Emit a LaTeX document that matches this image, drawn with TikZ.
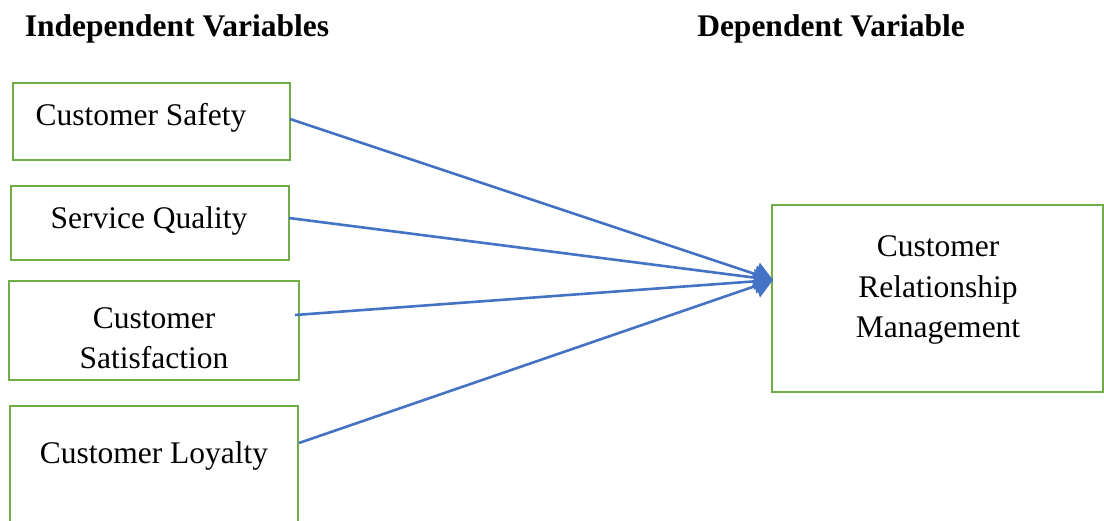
\documentclass[tikz,border=0pt]{standalone}
\usepackage{fontspec}
\setmainfont{Liberation Serif}
\usetikzlibrary{arrows.meta}
\definecolor{boxgreen}{HTML}{70AD47}
\definecolor{arrowblue}{HTML}{4472C4}
\tikzset{
  varbox/.style={draw=boxgreen, line width=2.8pt, fill=none},
  lbl/.style={inner sep=0pt, font=\fontsize{31.5}{40.5}\selectfont},
  head/.style={inner sep=0pt, font=\fontsize{31.5}{40.5}\selectfont\bfseries},
  link/.style={draw=arrowblue, line width=2.6pt, -{Triangle[length=18pt,width=24pt]}}
}
\begin{document}
\begin{tikzpicture}[x=1pt,y=-1pt]
\useasboundingbox (0,0) rectangle (1104,521);
\fill[white] (0,0) rectangle (1104,521);
% headings
\node[head] (hind) at (177,29) {Independent Variables};
\node[head] (hdep) at (831,29) {Dependent Variable};
% boxes
\draw[varbox] (13,83) rectangle (290,160);
\coordinate (b1) at (290,119);
\draw[varbox] (11,186) rectangle (289,260);
\coordinate (b2) at (289,218);
\draw[varbox] (9,281) rectangle (299,380);
\coordinate (b3) at (295,315);
\draw[varbox] (10,406) rectangle (298,545);
\coordinate (b4) at (299,443);
\draw[varbox] (772,205) rectangle (1103,392);
\coordinate (tip) at (773,280);
% texts
\node[lbl] (t1) at (141,118) {Customer Safety};
\node[lbl] (t2) at (149,221) {Service Quality};
\node[lbl, align=center] (t3) at (154,338) {Customer\\Satisfaction};
\node[lbl] (t4) at (154,456) {Customer Loyalty};
\node[lbl, align=center] (t5) at (938,290) {Customer\\Relationship\\Management};
% connectors
\draw[link] (b1) -- (tip);
\draw[link] (b2) -- (tip);
\draw[link] (b3) -- (tip);
\draw[link] (b4) -- (tip);
\end{tikzpicture}
\end{document}
